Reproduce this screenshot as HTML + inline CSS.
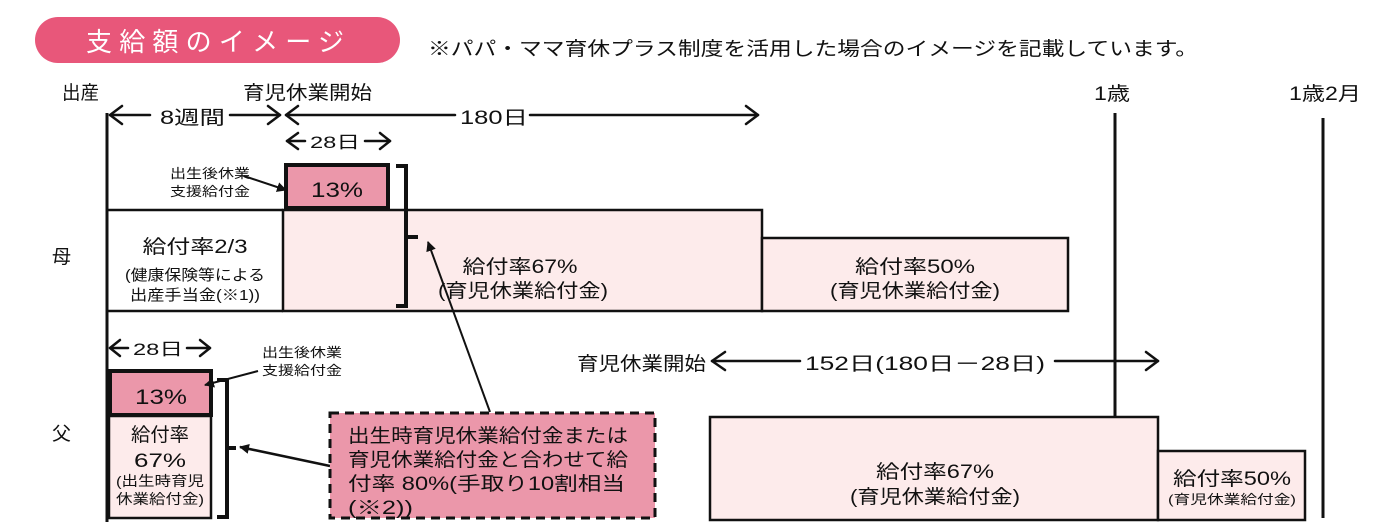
<!DOCTYPE html>
<html><head><meta charset="utf-8"><style>
html,body{margin:0;padding:0;background:#fff;}
svg{display:block;}
text{font-family:"Liberation Sans","Noto Sans CJK JP",sans-serif;fill:#111;}
</style></head><body>
<svg width="1400" height="522" viewBox="0 0 1400 522" xmlns="http://www.w3.org/2000/svg">
<defs>
<marker id="ah" markerWidth="10" markerHeight="10" refX="9" refY="5" orient="auto" markerUnits="userSpaceOnUse"><path d="M0,0 L10,5 L0,10 z" fill="#111"/></marker>
</defs>
<rect x="35" y="17" width="365" height="46" rx="23" fill="#e8577a"/>
<text x="86" y="51" font-size="26" style="fill:#fff" textLength="258" lengthAdjust="spacing">支給額のイメージ</text>
<text x="428" y="55" font-size="19" textLength="770" lengthAdjust="spacingAndGlyphs">※パパ・ママ育休プラス制度を活用した場合のイメージを記載しています。</text>

<text x="62" y="99" font-size="19" textLength="37" lengthAdjust="spacingAndGlyphs">出産</text>
<text x="243" y="99" font-size="19" textLength="129" lengthAdjust="spacingAndGlyphs">育児休業開始</text>
<text x="1094" y="100" font-size="19" textLength="36" lengthAdjust="spacingAndGlyphs">1歳</text>
<text x="1289" y="100" font-size="19" textLength="72" lengthAdjust="spacingAndGlyphs">1歳2月</text>

<g stroke="#111" fill="none" stroke-width="3">
<line x1="107" y1="113" x2="107" y2="522"/>
<line x1="1115" y1="113" x2="1115" y2="418"/>
<line x1="1323" y1="118" x2="1323" y2="518"/>
</g>
<g stroke="#111" fill="none" stroke-width="2.5" stroke-linecap="round" stroke-linejoin="round">
<line x1="110" y1="115" x2="150" y2="115"/><path d="M122,106 L110,115 L122,124"/>
<line x1="230" y1="115" x2="280" y2="115"/><path d="M268,106 L280,115 L268,124"/>
<line x1="286" y1="115" x2="455" y2="115"/><path d="M298,106 L286,115 L298,124"/>
<line x1="530" y1="115" x2="758" y2="115"/><path d="M746,106 L758,115 L746,124"/>
<line x1="287" y1="141" x2="305" y2="141"/><path d="M298,133 L287,141 L298,149"/>
<line x1="365" y1="141" x2="390" y2="141"/><path d="M380,133 L390,141 L380,149"/>
<line x1="110" y1="348" x2="128" y2="348"/><path d="M120,340 L110,348 L120,356"/>
<line x1="187" y1="348" x2="210" y2="348"/><path d="M200,340 L210,348 L200,356"/>
<line x1="712" y1="361" x2="800" y2="361"/><path d="M725,352 L712,361 L725,370"/>
<line x1="1055" y1="361" x2="1158" y2="361"/><path d="M1146,352 L1158,361 L1146,370"/>
</g>
<text x="160" y="124" font-size="19" textLength="65" lengthAdjust="spacingAndGlyphs">8週間</text>
<text x="460" y="124" font-size="19" textLength="68" lengthAdjust="spacingAndGlyphs">180日</text>
<text x="310" y="148" font-size="17" textLength="50" lengthAdjust="spacingAndGlyphs">28日</text>
<text x="133" y="355" font-size="17" textLength="50" lengthAdjust="spacingAndGlyphs">28日</text>
<text x="577" y="370" font-size="19" textLength="129" lengthAdjust="spacingAndGlyphs">育児休業開始</text>
<text x="805" y="370" font-size="19" textLength="240" lengthAdjust="spacingAndGlyphs">152日(180日－28日)</text>

<rect x="283" y="210" width="479" height="101" fill="#fdebeb" stroke="#111" stroke-width="2.5"/>
<rect x="762" y="238" width="306" height="73" fill="#fdebeb" stroke="#111" stroke-width="2.5"/>
<line x1="107" y1="210" x2="283" y2="210" stroke="#111" stroke-width="2.5"/>
<line x1="107" y1="311" x2="283" y2="311" stroke="#111" stroke-width="2.5"/>
<rect x="286" y="165" width="102" height="43" fill="#eb97aa" stroke="#111" stroke-width="4"/>
<text x="311" y="197" font-size="21" textLength="52" lengthAdjust="spacingAndGlyphs">13%</text>
<text x="170" y="178" font-size="13" textLength="80" lengthAdjust="spacingAndGlyphs">出生後休業</text>
<text x="170" y="196" font-size="13" textLength="80" lengthAdjust="spacingAndGlyphs">支援給付金</text>
<line x1="244" y1="176" x2="286" y2="190" stroke="#111" stroke-width="2" marker-end="url(#ah)"/>
<path d="M396,166 L406,166 L406,306 L396,306 M406,237 L418,237" fill="none" stroke="#111" stroke-width="4"/>
<line x1="490" y1="412" x2="428" y2="242" stroke="#111" stroke-width="2" marker-end="url(#ah)"/>
<text x="52" y="263" font-size="19">母</text>
<text x="195" y="253" font-size="19" text-anchor="middle" textLength="105" lengthAdjust="spacingAndGlyphs">給付率2/3</text>
<text x="195" y="280" font-size="15" text-anchor="middle" textLength="140" lengthAdjust="spacingAndGlyphs">(健康保険等による</text>
<text x="195" y="300" font-size="15" text-anchor="middle" textLength="130" lengthAdjust="spacingAndGlyphs">出産手当金(※1))</text>
<text x="520" y="273" font-size="19" text-anchor="middle" textLength="115" lengthAdjust="spacingAndGlyphs">給付率67%</text>
<text x="523" y="297" font-size="19" text-anchor="middle" textLength="170" lengthAdjust="spacingAndGlyphs">(育児休業給付金)</text>
<text x="915" y="273" font-size="19" text-anchor="middle" textLength="120" lengthAdjust="spacingAndGlyphs">給付率50%</text>
<text x="915" y="297" font-size="19" text-anchor="middle" textLength="170" lengthAdjust="spacingAndGlyphs">(育児休業給付金)</text>

<text x="52" y="440" font-size="19">父</text>
<rect x="109" y="416" width="102" height="102" fill="#fdebeb" stroke="#111" stroke-width="2.5"/>
<rect x="110" y="371" width="101" height="44" fill="#eb97aa" stroke="#111" stroke-width="4"/>
<text x="135" y="404" font-size="21" textLength="52" lengthAdjust="spacingAndGlyphs">13%</text>
<text x="160" y="441" font-size="19" text-anchor="middle" textLength="58" lengthAdjust="spacingAndGlyphs">給付率</text>
<text x="160" y="467" font-size="19" text-anchor="middle" textLength="52" lengthAdjust="spacingAndGlyphs">67%</text>
<text x="160" y="486" font-size="14" text-anchor="middle" textLength="88" lengthAdjust="spacingAndGlyphs">(出生時育児</text>
<text x="160" y="504" font-size="14" text-anchor="middle" textLength="88" lengthAdjust="spacingAndGlyphs">休業給付金)</text>
<text x="262" y="357" font-size="13" textLength="80" lengthAdjust="spacingAndGlyphs">出生後休業</text>
<text x="262" y="375" font-size="13" textLength="80" lengthAdjust="spacingAndGlyphs">支援給付金</text>
<line x1="258" y1="371" x2="205" y2="385" stroke="#111" stroke-width="2" marker-end="url(#ah)"/>
<path d="M217,380 L227,380 L227,517 L217,517 M227,448 L236,448" fill="none" stroke="#111" stroke-width="4"/>
<line x1="330" y1="466" x2="240" y2="447" stroke="#111" stroke-width="2.5" marker-end="url(#ah)"/>
<rect x="330" y="413" width="325" height="105" fill="#eb97aa" stroke="#111" stroke-width="3" stroke-dasharray="9,6"/>
<text x="348" y="442" font-size="19" textLength="280" lengthAdjust="spacingAndGlyphs">出生時育児休業給付金または</text>
<text x="348" y="466" font-size="19" textLength="280" lengthAdjust="spacingAndGlyphs">育児休業給付金と合わせて給</text>
<text x="348" y="490" font-size="19" textLength="277" lengthAdjust="spacingAndGlyphs">付率 80%(手取り10割相当</text>
<text x="348" y="514" font-size="19" textLength="65" lengthAdjust="spacingAndGlyphs">(※2))</text>

<rect x="710" y="417" width="448" height="103" fill="#fdebeb" stroke="#111" stroke-width="2.5"/>
<rect x="1158" y="451" width="147" height="69" fill="#fdebeb" stroke="#111" stroke-width="2.5"/>
<text x="935" y="478" font-size="19" text-anchor="middle" textLength="118" lengthAdjust="spacingAndGlyphs">給付率67%</text>
<text x="935" y="503" font-size="19" text-anchor="middle" textLength="170" lengthAdjust="spacingAndGlyphs">(育児休業給付金)</text>
<text x="1232" y="485" font-size="19" text-anchor="middle" textLength="118" lengthAdjust="spacingAndGlyphs">給付率50%</text>
<text x="1232" y="504" font-size="13" text-anchor="middle" textLength="128" lengthAdjust="spacingAndGlyphs">(育児休業給付金)</text>
</svg>
</body></html>
